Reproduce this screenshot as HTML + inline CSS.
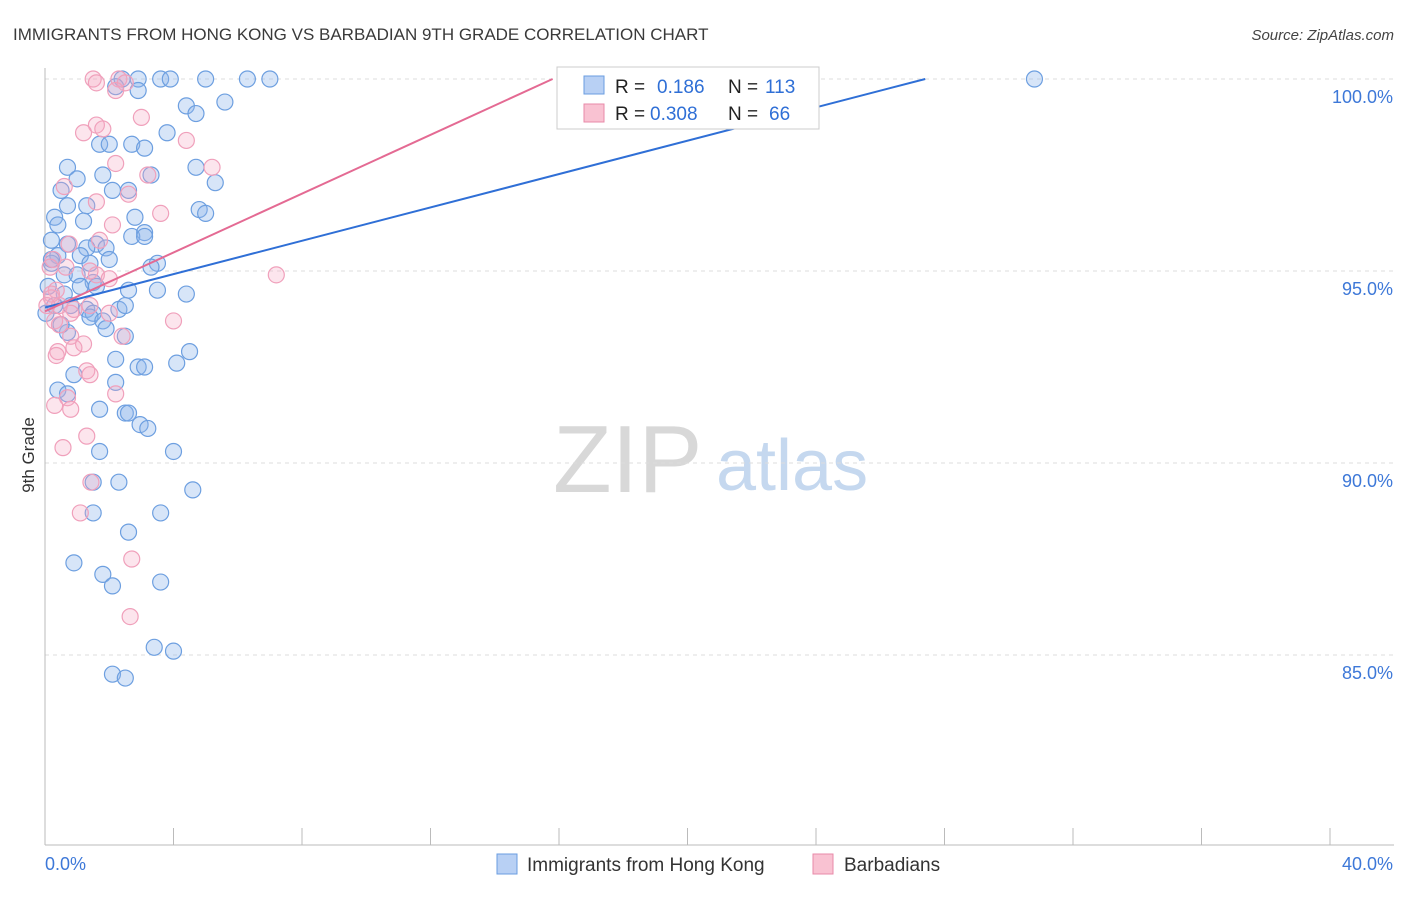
<!DOCTYPE html>
<html><head><meta charset="utf-8"><style>
body{margin:0;background:#fff;font-family:"Liberation Sans",sans-serif;}
svg text{font-family:"Liberation Sans",sans-serif;}
</style></head><body>
<svg id="chart" width="1406" height="892" xmlns="http://www.w3.org/2000/svg">
<text x="13" y="40" font-size="17" fill="#3a3a3a">IMMIGRANTS FROM HONG KONG VS BARBADIAN 9TH GRADE CORRELATION CHART</text>
<text x="1394" y="40" font-size="15" fill="#444" text-anchor="end" font-style="italic">Source: ZipAtlas.com</text>
<text x="553" y="492" font-size="96" fill="#d8d8d8" font-family="Liberation Serif">ZIP</text>
<text x="716" y="490" font-size="72" fill="#c5d8ef">atlas</text>
<text transform="translate(34,455) rotate(-90)" font-size="17" fill="#333" text-anchor="middle">9th Grade</text>
<g id="grid"></g><g id="axes"></g><g id="pts"></g><g id="lines"></g>
<g>
<rect x="557" y="67" width="262" height="62" fill="#fff" stroke="#ccc"/>
<rect x="584" y="76" width="20" height="18" fill="#b8d0f4" stroke="#6a9de0"/>
<rect x="584" y="104" width="20" height="18" fill="#f9c2d2" stroke="#e88aa8"/>
<text x="615" y="93" font-size="19" fill="#222">R =</text>
<text x="657" y="93" font-size="19" fill="#2f6fd6">0.186</text>
<text x="728" y="93" font-size="19" fill="#222">N =</text>
<text x="765" y="93" font-size="19" fill="#2f6fd6">113</text>
<text x="615" y="120" font-size="19" fill="#222">R =</text>
<text x="650" y="120" font-size="19" fill="#2f6fd6">0.308</text>
<text x="728" y="120" font-size="19" fill="#222">N =</text>
<text x="769" y="120" font-size="19" fill="#2f6fd6">66</text>
</g>
<g>
<rect x="497" y="854" width="20" height="20" fill="#b8d0f4" stroke="#6a9de0"/>
<text x="527" y="871" font-size="19" fill="#333">Immigrants from Hong Kong</text>
<rect x="813" y="854" width="20" height="20" fill="#f9c2d2" stroke="#e88aa8"/>
<text x="844" y="871" font-size="19" fill="#333">Barbadians</text>
</g>
</svg>
<script>
const xTicks=[0,40];
const yTicks=[85,90,95,100];
const blueLine=[[0,94.05],[27.4,100]];
const pinkLine=[[0,93.95],[15.8,100]];
const bluePts=[[2.4,100],[2.9,100],[3.6,100],[3.9,100],[5,100],[6.3,100],[7,100],[30.8,100],[2.2,99.8],[2.9,99.7],[4.4,99.3],[4.7,99.1],[5.6,99.4],[3.8,98.6],[1.7,98.3],[2,98.3],[2.7,98.3],[3.1,98.2],[0.7,97.7],[3.3,97.5],[1,97.4],[1.8,97.5],[4.7,97.7],[5.3,97.3],[0.5,97.1],[2.1,97.1],[2.6,97.1],[0.7,96.7],[1.3,96.7],[4.8,96.6],[5,96.5],[0.3,96.4],[1.2,96.3],[2.8,96.4],[0.4,96.2],[3.1,96],[2.7,95.9],[3.1,95.9],[0.2,95.8],[0.7,95.7],[1.6,95.7],[1.3,95.6],[1.9,95.6],[0.4,95.4],[1.1,95.4],[2,95.3],[0.2,95.2],[1.4,95.2],[3.5,95.2],[3.3,95.1],[0.6,94.9],[1,94.9],[0.1,94.6],[1.5,94.7],[1.6,94.6],[0.6,94.4],[2.6,94.5],[3.5,94.5],[4.4,94.4],[0.8,94.1],[1.3,94],[1.5,93.9],[2.3,94],[2.5,94.1],[1.4,93.8],[1.8,93.7],[1.9,93.5],[2.5,93.3],[0.7,93.4],[4.5,92.9],[2.2,92.7],[2.9,92.5],[3.1,92.5],[4.1,92.6],[0.9,92.3],[2.2,92.1],[0.4,91.9],[0.7,91.8],[1.7,91.4],[2.5,91.3],[2.6,91.3],[2.96,91],[3.2,90.9],[1.7,90.3],[4,90.3],[1.5,89.5],[2.3,89.5],[4.6,89.3],[1.5,88.7],[3.6,88.7],[2.6,88.2],[0.9,87.4],[1.8,87.1],[2.1,86.8],[3.6,86.9],[3.4,85.2],[4,85.1],[2.1,84.5],[2.5,84.4],[0.2,95.3],[0.3,94.1],[0.03,93.9],[1.1,94.6],[0.5,93.6]];
const pinkPts=[[1.5,100],[1.6,99.9],[2.3,100],[2.5,99.9],[18.4,100],[2.2,99.7],[3,99],[1.6,98.8],[1.8,98.7],[1.2,98.6],[4.4,98.4],[2.2,97.8],[5.2,97.7],[3.2,97.5],[0.6,97.2],[2.6,97],[1.6,96.8],[3.6,96.5],[2.1,96.2],[1.7,95.8],[0.75,95.7],[0.25,95.3],[0.65,95.1],[1.6,94.9],[1.4,95],[2,94.8],[7.2,94.9],[0.35,94.5],[0.2,94.3],[0.45,94.1],[0.9,94],[1.4,94.1],[0.8,93.9],[2,93.9],[0.3,93.7],[0.45,93.6],[4,93.7],[2.4,93.3],[0.8,93.3],[1.2,93.1],[0.4,92.9],[0.35,92.8],[0.9,93],[1.3,92.4],[1.4,92.3],[2.2,91.8],[0.7,91.7],[0.3,91.5],[0.8,91.4],[1.3,90.7],[0.56,90.4],[1.43,89.5],[1.1,88.7],[2.7,87.5],[2.65,86],[0.2,94.4],[0.06,94.1],[0.16,95.1]];
const X=v=>45+v*32.125, Y=v=>79+(100-v)*38.4;
const NS="http://www.w3.org/2000/svg";
function mk(t,a,p){const e=document.createElementNS(NS,t);for(const k in a)e.setAttribute(k,a[k]);p.appendChild(e);return e;}
const grid=document.getElementById('grid'),axes=document.getElementById('axes'),pts=document.getElementById('pts'),lines=document.getElementById('lines');
yTicks.forEach(v=>{const l=mk('line',{x1:45,x2:1394,y1:Y(v),y2:Y(v),stroke:'#ddd','stroke-dasharray':'4,4'},grid);


const t=mk('text',{x:1393,y:Y(v)+24,'font-size':18,fill:'#3d78d8','text-anchor':'end'},axes);t.textContent=v.toFixed(1)+'%';

});
mk('line',{x1:45,x2:45,y1:68,y2:845,stroke:'#bbb'},axes);
mk('line',{x1:45,x2:1394,y1:845,y2:845,stroke:'#bbb'},axes);
for(let i=0;i<=10;i++){mk('line',{x1:X(i*4),x2:X(i*4),y1:828,y2:845,stroke:'#bbb'},axes);}
xTicks.forEach((v,i)=>{const t=mk('text',{x:i?1393:45,y:870,'font-size':18,fill:'#3d78d8','text-anchor':i?'end':'start'},axes);t.textContent=v.toFixed(1)+'%';

});
bluePts.forEach(p=>{const c=mk('circle',{cx:X(p[0]),cy:Y(p[1]),r:8,fill:'rgba(140,180,235,0.35)',stroke:'#6d9fe0','stroke-width':1.2},pts);

});
pinkPts.forEach(p=>{const c=mk('circle',{cx:X(p[0]),cy:Y(p[1]),r:8,fill:'rgba(245,170,195,0.3)',stroke:'#f0a0bb','stroke-width':1.2},pts);

});
const bl=mk('line',{x1:X(blueLine[0][0]),y1:Y(blueLine[0][1]),x2:X(blueLine[1][0]),y2:Y(blueLine[1][1]),stroke:'#2f6fd6','stroke-width':2},lines);


const pl=mk('line',{x1:X(pinkLine[0][0]),y1:Y(pinkLine[0][1]),x2:X(pinkLine[1][0]),y2:Y(pinkLine[1][1]),stroke:'#e46a93','stroke-width':2},lines);


</script>
</body></html>
